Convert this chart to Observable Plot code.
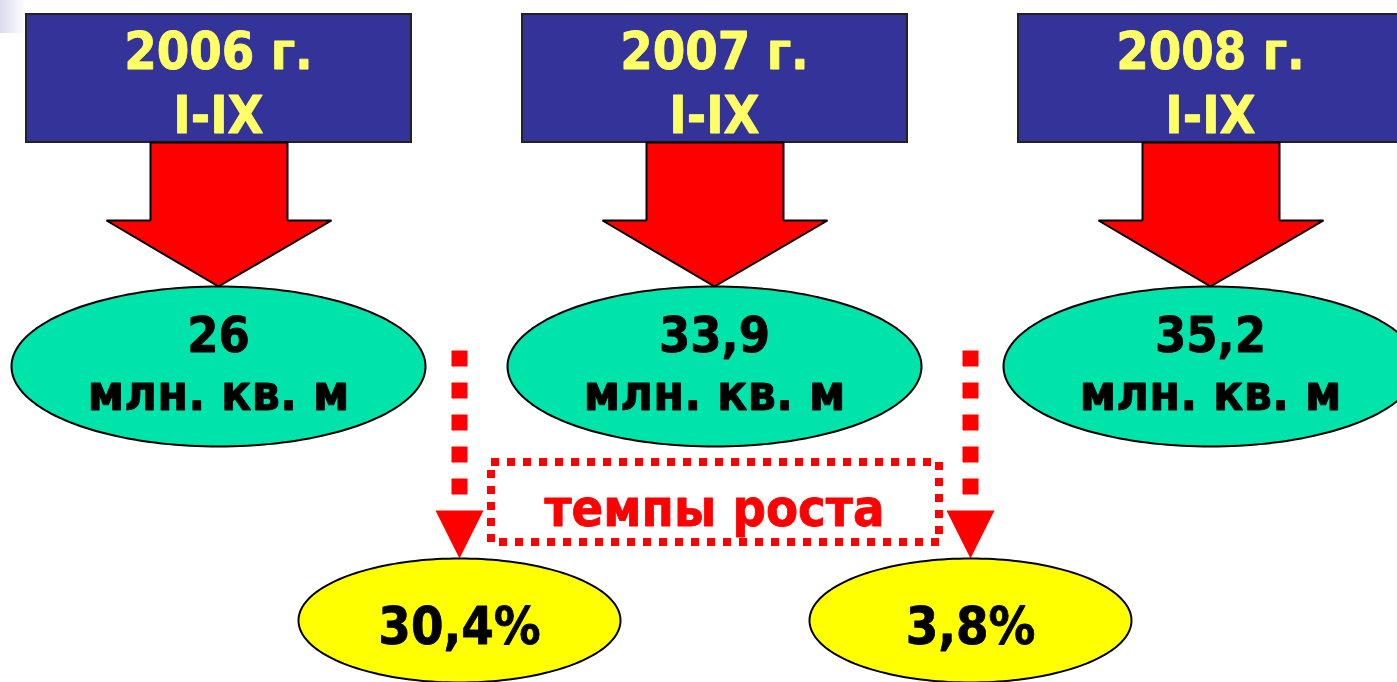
<!DOCTYPE html>
<html>
<head>
<meta charset="utf-8">
<script src="https://cdn.jsdelivr.net/npm/d3@7"></script>
<script src="https://cdn.jsdelivr.net/npm/@observablehq/plot@0.6"></script>
<style>
  html, body { margin: 0; padding: 0; background: #fff; }
  #chart svg { display: block; }
</style>
</head>
<body>
<div id="chart"></div>
<script>
// ---- data ----
const years = ["2006 г.", "2007 г.", "2008 г."];
const period = "I-IX";
const areaValues = ["26", "33,9", "35,2"];
const unit = "млн. кв. м";
const growthRates = ["30,4%", "3,8%"];
const growthLabel = "темпы роста";

// ---- layout (pixel space) ----
const W = 1397, H = 682;
const colX = i => 218 + i * 496;          // column centres
const growX = i => 459 + i * 511;         // growth-rate centres
const FONT = "'DejaVu Sans Condensed', 'DejaVu Sans', sans-serif";

const cols = years.map((y, i) => ({i, year: y, value: areaValues[i], cx: colX(i)}));
const grows = growthRates.map((g, i) => ({i, g, cx: growX(i)}));

// blue boxes
const boxes = cols.map(d => ({x1: d.cx - 192, x2: d.cx + 193, y1: 14, y2: 142}));

// big red arrows (polygons)
const bigArrows = cols.flatMap(d => {
  const c = d.cx;
  const pts = [[c - 68, 142], [c + 69, 142], [c + 69, 220], [c + 113, 220], [c, 286],
               [c - 112, 220], [c - 68, 220], [c - 68, 142]];
  return pts.map(([x, y]) => ({id: d.i, x, y}));
});

function ellipse(id, cx, cy, rx, ry) {
  return d3.range(0, 181).map(k => {
    const t = (k / 180) * 2 * Math.PI;
    return {id, x: cx + rx * Math.cos(t), y: cy + ry * Math.sin(t)};
  });
}
const greenEllipses = cols.flatMap(d => ellipse(d.i, d.cx, 366, 207, 80));
const yellowEllipses = grows.flatMap(d => ellipse(d.i, d.cx, 620, 161, 62));

// dotted arrows
const dotLines = grows.map(d => ({x: d.cx, y1: 350, y2: 494}));
const smallHeads = grows.flatMap(d => {
  const c = d.cx;
  return [[c - 24, 510], [c + 24, 510], [c, 558], [c - 24, 510]].map(([x, y]) => ({id: d.i, x, y}));
});

const txt = {fontWeight: "bold", fontFamily: FONT, fontSize: 52, lineAnchor: "bottom", strokeWidth: 0.8};

const chart = Plot.plot({
  width: W, height: H,
  margin: 0,
  x: {type: "linear", domain: [0, W], range: [0, W], axis: null},
  y: {type: "linear", domain: [0, H], range: [0, H], axis: null},
  style: {background: "#fff"},
  marks: [
    () => {
      const g = d3.create("svg:g");
      const lg = g.append("defs").append("linearGradient").attr("id", "tlgrad")
        .attr("x1", 0).attr("x2", 1).attr("y1", 0).attr("y2", 0);
      lg.append("stop").attr("offset", 0).attr("stop-color", "#dcdcef");
      lg.append("stop").attr("offset", 1).attr("stop-color", "#ffffff");
      return g.node();
    },
    Plot.rect([{x1: 0, x2: 26, y1: 0, y2: 33}], {x1: "x1", x2: "x2", y1: "y1", y2: "y2", fill: "url(#tlgrad)"}),
    // blue header boxes
    Plot.rect(boxes, {x1: "x1", x2: "x2", y1: "y1", y2: "y2", fill: "#333399", stroke: "#222", strokeWidth: 2}),
    Plot.text(cols, {...txt, x: "cx", y: 132, text: d => `${d.year}\n${period}`, lineHeight: 64 / 52,
      fill: "#FFFF66", stroke: "#FFFF66"}),
    // big arrows
    Plot.line(bigArrows, {x: "x", y: "y", z: "id", fill: "#FF0000", stroke: "#000", strokeWidth: 2, strokeLinejoin: "miter"}),
    // green ellipses
    Plot.line(greenEllipses, {x: "x", y: "y", z: "id", fill: "#00E3AA", stroke: "#000", strokeWidth: 2}),
    Plot.text(cols, {...txt, fontSize: 50, x: "cx", y: 351, text: "value", fill: "#000", stroke: "#000"}),
    Plot.text(cols, {...txt, fontSize: 50, x: "cx", y: 409, text: () => unit, fill: "#000", stroke: "#000"}),
    // dotted arrows
    Plot.link(dotLines, {x1: "x", x2: "x", y1: "y1", y2: "y2", stroke: "#FF0000", strokeWidth: 16,
      strokeDasharray: "16 16", strokeLinecap: "butt"}),
    Plot.line(smallHeads, {x: "x", y: "y", z: "id", fill: "#FF0000", stroke: "none"}),
    // dotted label box
    Plot.rect([{x1: 491, x2: 939, y1: 462, y2: 542}], {x1: "x1", x2: "x2", y1: "y1", y2: "y2",
      fill: "none", stroke: "#FF0000", strokeWidth: 8, strokeDasharray: "8 8"}),
    Plot.text([growthLabel], {...txt, x: 714, y: 525, text: d => d, fill: "#FF0000", stroke: "#FF0000"}),
    // yellow ellipses
    Plot.line(yellowEllipses, {x: "x", y: "y", z: "id", fill: "#FFFF00", stroke: "#000", strokeWidth: 2}),
    Plot.text(grows, {...txt, x: "cx", y: 643, text: "g", fill: "#000", stroke: "#000"})
  ]
});
document.getElementById("chart").appendChild(chart);
</script>
</body>
</html>
